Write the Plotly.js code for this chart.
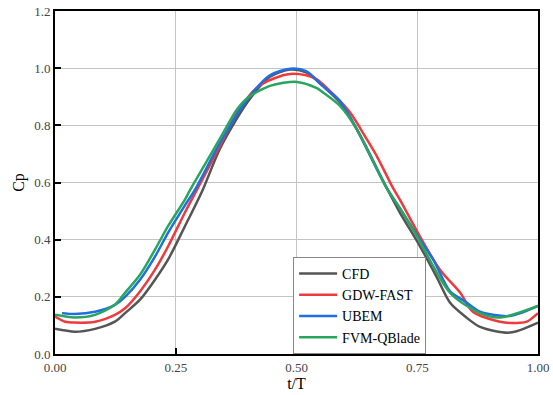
<!DOCTYPE html>
<html>
<head>
<meta charset="utf-8">
<script src="https://cdn.plot.ly/plotly-3.0.1.min.js"></script>
<style>html,body{margin:0;padding:0;background:#fff;}#chart{width:553px;height:395px;}</style>
</head>
<body>
<div id="chart"></div>
<script>
var cfdT = [0, 0.041, 0.083, 0.124, 0.145, 0.176, 0.207, 0.234, 0.269, 0.306, 0.342, 0.398, 0.445, 0.487, 0.52, 0.555, 0.59, 0.625, 0.687, 0.714, 0.756, 0.79, 0.818, 0.85, 0.88, 0.942, 1.0];
var cfdCp = [0.088, 0.078, 0.088, 0.113, 0.143, 0.19, 0.26, 0.33, 0.447, 0.575, 0.72, 0.88, 0.97, 0.995, 0.985, 0.937, 0.88, 0.786, 0.58, 0.495, 0.376, 0.27, 0.179, 0.13, 0.095, 0.075, 0.11];

var gdwT = [0, 0.021, 0.041, 0.083, 0.124, 0.145, 0.176, 0.207, 0.234, 0.269, 0.294, 0.342, 0.377, 0.42, 0.472, 0.487, 0.52, 0.542, 0.576, 0.611, 0.646, 0.667, 0.70, 0.714, 0.756, 0.797, 0.839, 0.865, 0.921, 0.963, 0.977, 1.0];
var gdwCp = [0.131, 0.113, 0.11, 0.113, 0.137, 0.16, 0.219, 0.295, 0.376, 0.495, 0.575, 0.73, 0.845, 0.935, 0.975, 0.98, 0.975, 0.961, 0.909, 0.845, 0.75, 0.69, 0.58, 0.54, 0.41, 0.295, 0.214, 0.148, 0.113, 0.109, 0.113, 0.143];

var ubemT = [0.0145, 0.041, 0.083, 0.124, 0.145, 0.176, 0.207, 0.234, 0.269, 0.29, 0.342, 0.398, 0.445, 0.487, 0.52, 0.555, 0.59, 0.625, 0.687, 0.714, 0.75, 0.783, 0.818, 0.85, 0.88, 0.942, 1.0];
var ubemCp = [0.143, 0.14, 0.148, 0.172, 0.2, 0.26, 0.341, 0.424, 0.52, 0.575, 0.74, 0.89, 0.975, 0.998, 0.99, 0.937, 0.885, 0.786, 0.58, 0.51, 0.415, 0.33, 0.219, 0.183, 0.148, 0.133, 0.168];

var fvmT = [0, 0.041, 0.083, 0.124, 0.145, 0.176, 0.207, 0.234, 0.269, 0.28, 0.342, 0.377, 0.398, 0.445, 0.501, 0.542, 0.555, 0.59, 0.625, 0.687, 0.714, 0.75, 0.818, 0.88, 0.921, 1.0];
var fvmCp = [0.137, 0.128, 0.137, 0.172, 0.214, 0.277, 0.365, 0.447, 0.54, 0.575, 0.755, 0.856, 0.895, 0.938, 0.952, 0.93, 0.915, 0.868, 0.786, 0.58, 0.51, 0.41, 0.214, 0.143, 0.128, 0.168];

var names = ["CFD", "GDW-FAST", "UBEM", "FVM-QBlade"];
var colors = ["#555555", "#ef3a3d", "#1e6fe1", "#2aa55e"];

var xs = [cfdT, gdwT, ubemT, fvmT];
var ys = [cfdCp, gdwCp, ubemCp, fvmCp];

var traces = xs.map(function (x, i) {
  return {
    x: x, y: ys[i], name: names[i], type: "scatter", mode: "lines",
    line: {color: colors[i], width: 2.5, shape: "spline", smoothing: 0.8}
  };
});

var serif = "'Liberation Serif', 'Times New Roman', serif";
var layout = {
  width: 553, height: 395,
  margin: {l: 55, r: 15, t: 11, b: 41},
  paper_bgcolor: "#fff", plot_bgcolor: "#fff",
  showlegend: true,
  legend: {
    x: 0.493, y: 0, xanchor: "left", yanchor: "bottom",
    bgcolor: "#fff", bordercolor: "#888", borderwidth: 1,
    font: {family: serif, size: 14, color: "#000"},
    tracegroupgap: 0, itemwidth: 38
  },
  xaxis: {
    range: [0, 1], tickvals: [0, 0.25, 0.5, 0.75, 1.0], tickformat: ".2f",
    showline: true, linecolor: "#000", linewidth: 2, mirror: true,
    ticks: "inside", ticklen: 6, tickwidth: 2, tickcolor: "#000",
    showgrid: true, gridcolor: "#c4c4c4", gridwidth: 1, zeroline: false,
    tickfont: {family: serif, size: 13, color: "#444"},
    title: {text: "t/T", font: {family: serif, size: 16, color: "#000"}, standoff: 2}
  },
  yaxis: {
    range: [0, 1.2], dtick: 0.2, tickformat: ".1f",
    showline: true, linecolor: "#000", linewidth: 2, mirror: true,
    ticks: "inside", ticklen: 6, tickwidth: 2, tickcolor: "#000",
    showgrid: true, gridcolor: "#c4c4c4", gridwidth: 1, zeroline: false,
    tickfont: {family: serif, size: 13, color: "#444"},
    title: {text: "Cp", font: {family: serif, size: 16, color: "#000"}, standoff: 6}
  }
};

Plotly.newPlot("chart", traces, layout, {displayModeBar: false, staticPlot: true});
</script>
</body>
</html>
